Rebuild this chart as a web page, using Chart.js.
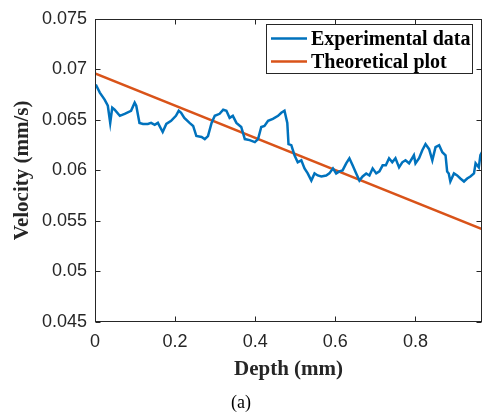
<!DOCTYPE html>
<html>
<head>
<meta charset="utf-8">
<title>Velocity vs depth</title>
<script src="https://cdn.jsdelivr.net/npm/chart.js@4/dist/chart.umd.min.js"></script>
<style>
  html, body { margin: 0; padding: 0; background: #fff; }
  canvas { display: block; }
</style>
</head>
<body>
<canvas id="grafico" width="483" height="419"></canvas>
<script>
// datos
const depthExp = [
    0.002, 0.012, 0.024, 0.032, 0.038, 0.043, 0.049, 0.062, 0.074, 0.090,
    0.099, 0.103, 0.111, 0.120, 0.132, 0.140, 0.149, 0.157, 0.169, 0.178,
    0.190, 0.202, 0.209, 0.215, 0.223, 0.236, 0.245, 0.253, 0.266, 0.274,
    0.282, 0.291, 0.299, 0.311, 0.320, 0.328, 0.336, 0.344, 0.353, 0.365,
    0.374, 0.386, 0.399, 0.407, 0.415, 0.423, 0.432, 0.444, 0.457, 0.465,
    0.473, 0.480, 0.483, 0.490, 0.498, 0.506, 0.515, 0.523, 0.531, 0.540,
    0.548, 0.556, 0.565, 0.577, 0.585, 0.594, 0.602, 0.610, 0.618, 0.627,
    0.635, 0.643, 0.652, 0.660, 0.668, 0.677, 0.685, 0.693, 0.702, 0.710,
    0.718, 0.726, 0.734, 0.742, 0.750, 0.759, 0.767, 0.775, 0.784, 0.796,
    0.800, 0.809, 0.817, 0.825, 0.834, 0.842, 0.850, 0.859, 0.867, 0.875,
    0.879, 0.883, 0.887, 0.896, 0.904, 0.912, 0.921, 0.929, 0.937, 0.946,
    0.950, 0.958, 0.962, 0.966
];
const velocityExp = [
    0.0685, 0.0677, 0.0670, 0.0664, 0.0647, 0.0662, 0.0660, 0.0654, 0.0656, 0.0659,
    0.0667, 0.0664, 0.0647, 0.0646, 0.0646, 0.0647, 0.0645, 0.0647, 0.0638, 0.0646,
    0.0649, 0.0654, 0.0659, 0.0657, 0.0652, 0.0647, 0.0644, 0.0634, 0.0633, 0.0631,
    0.0634, 0.0647, 0.0654, 0.0656, 0.0660, 0.0659, 0.0652, 0.0654, 0.0647, 0.0643,
    0.0631, 0.0630, 0.0628, 0.0631, 0.0643, 0.0644, 0.0649, 0.0651, 0.0654, 0.0657,
    0.0659, 0.0647, 0.0626, 0.0625, 0.0615, 0.0608, 0.0610, 0.0602, 0.0597, 0.0590,
    0.0597, 0.0595, 0.0594, 0.0595, 0.0597, 0.0602, 0.0597, 0.0599, 0.0600, 0.0607,
    0.0612, 0.0605, 0.0597, 0.0590, 0.0594, 0.0597, 0.0595, 0.0602, 0.0597, 0.0599,
    0.0605, 0.0605, 0.0612, 0.0608, 0.0612, 0.0603, 0.0608, 0.0610, 0.0607, 0.0615,
    0.0607, 0.0612, 0.0620, 0.0626, 0.0621, 0.0610, 0.0623, 0.0625, 0.0618, 0.0615,
    0.0599, 0.0597, 0.0589, 0.0597, 0.0595, 0.0592, 0.0589, 0.0592, 0.0594, 0.0597,
    0.0607, 0.0603, 0.0615, 0.0618
];
const depthTheory = [0, 0.966];
const velocityTheory = [0.0696, 0.0542];

const xTicks = [0, 0.2, 0.4, 0.6, 0.8];
const yTicks = [0.045, 0.05, 0.055, 0.06, 0.065, 0.07, 0.075];

const seriesLabels = ['Experimental data', 'Theoretical plot'];
const seriesColors = ['#0072BD', '#D95319'];

const INK = '#262626';
const fuenteTicks = { family: '"Liberation Sans", Arial, sans-serif', size: 18 };
const fuenteTitulo = { family: '"Liberation Serif", "Times New Roman", serif', size: 21, weight: 'bold' };

const aPuntos = (xs, ys) => xs.map((x, i) => ({ x, y: ys[i] }));

// caja y ticks hacia adentro, estilo MATLAB
const ejesMatlab = {
    id: 'ejesMatlab',
    afterDatasetsDraw(chart) {
        const { ctx, chartArea: a, scales: { x, y } } = chart;
        const L = Math.round(a.left) + 0.5, R = Math.round(a.right) - 0.5;
        const T = Math.round(a.top) + 0.5, B = Math.round(a.bottom) - 0.5;
        ctx.save();
        ctx.strokeStyle = INK;
        ctx.lineWidth = 1;
        ctx.strokeRect(L, T, R - L, B - T);
        ctx.beginPath();
        x.ticks.forEach(t => {
            const px = Math.round(x.getPixelForValue(t.value)) + 0.5;
            ctx.moveTo(px, B); ctx.lineTo(px, B - 5);
            ctx.moveTo(px, T); ctx.lineTo(px, T + 5);
        });
        y.ticks.forEach(t => {
            const py = Math.round(y.getPixelForValue(t.value)) + 0.5;
            ctx.moveTo(L, py); ctx.lineTo(L + 5, py);
            ctx.moveTo(R, py); ctx.lineTo(R - 5, py);
        });
        ctx.stroke();
        ctx.restore();
    }
};

const leyendaMatlab = {
    id: 'leyendaMatlab',
    afterDraw(chart) {
        const { ctx } = chart;
        const box = { x: 266.5, y: 24.5, w: 206, h: 49 };
        const filas = [38.5, 61.5];
        ctx.save();
        ctx.fillStyle = '#fff';
        ctx.fillRect(box.x, box.y, box.w, box.h);
        ctx.strokeStyle = INK;
        ctx.lineWidth = 1;
        ctx.strokeRect(box.x, box.y, box.w, box.h);
        ctx.font = 'bold 20px "Liberation Serif", "Times New Roman", serif';
        ctx.textBaseline = 'middle';
        ctx.textAlign = 'left';
        chart.data.datasets.forEach((ds, i) => {
            const yy = filas[i];
            ctx.strokeStyle = ds.borderColor;
            ctx.lineWidth = 2.5;
            ctx.beginPath();
            ctx.moveTo(271, yy); ctx.lineTo(307, yy);
            ctx.stroke();
            ctx.fillStyle = '#000';
            ctx.fillText(ds.label, 311, yy + 1);
        });
        ctx.restore();
    }
};

new Chart(document.getElementById('grafico'), {
    type: 'line',
    data: {
        datasets: [{
            label: seriesLabels[0],
            data: aPuntos(depthExp, velocityExp),
            borderColor: seriesColors[0],
            borderWidth: 2.5,
            pointRadius: 0,
            tension: 0
        }, {
            label: seriesLabels[1],
            data: aPuntos(depthTheory, velocityTheory),
            borderColor: seriesColors[1],
            borderWidth: 2.5,
            pointRadius: 0,
            tension: 0
        }]
    },
    options: {
        responsive: false,
        animation: false,
        devicePixelRatio: 1,
        layout: { padding: { left: 0, right: 1, top: 15, bottom: 0 } },
        plugins: {
            legend: { display: false },
            tooltip: { enabled: false },
            title: {
                display: true,
                position: 'bottom',
                text: '(a)',
                color: '#000',
                font: { family: '"Liberation Serif", "Times New Roman", serif', size: 18, weight: 'normal' },
                padding: { top: 0, bottom: 5 }
            }
        },
        scales: {
            x: {
                type: 'linear',
                min: 0,
                max: 0.966,
                afterBuildTicks: s => { s.ticks = xTicks.map(v => ({ value: v })); },
                afterFit: s => { s.height = 70.4; },
                grid: { display: false, drawTicks: false },
                border: { display: false },
                ticks: { color: INK, font: fuenteTicks, padding: 9, maxRotation: 0, callback: v => String(+v.toFixed(3)) },
                title: { display: true, text: 'Depth (mm)', color: INK, font: fuenteTitulo, padding: { top: 0, bottom: 10 } }
            },
            y: {
                type: 'linear',
                min: 0.045,
                max: 0.075,
                afterBuildTicks: s => { s.ticks = yTicks.map(v => ({ value: v })); },
                afterFit: s => { s.width = 95; },
                grid: { display: false, drawTicks: false },
                border: { display: false },
                ticks: { color: INK, font: fuenteTicks, padding: 8, callback: v => String(+v.toFixed(3)) },
                title: { display: true, text: 'Velocity (mm/s)', color: INK, font: fuenteTitulo, padding: { top: 10, bottom: 0 } }
            }
        }
    },
    plugins: [ejesMatlab, leyendaMatlab]
});
</script>
</body>
</html>
